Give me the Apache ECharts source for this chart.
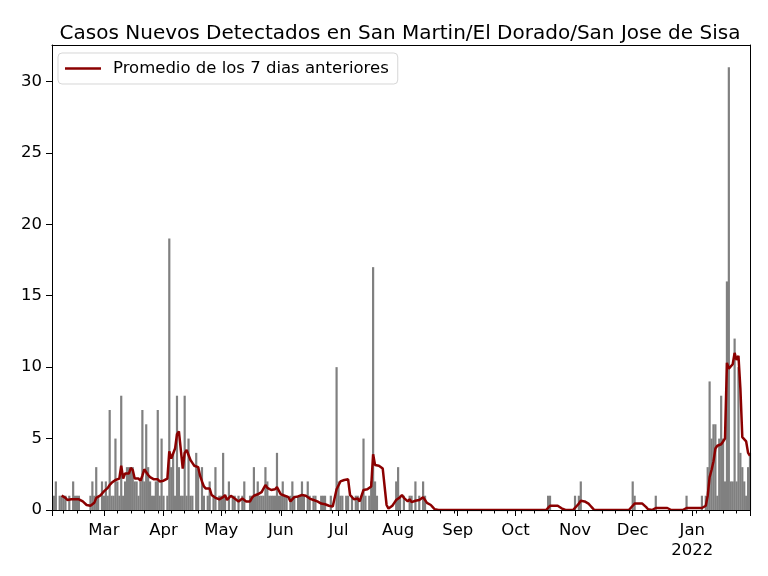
<!DOCTYPE html>
<html>
<head>
<meta charset="utf-8">
<script src="https://cdn.jsdelivr.net/npm/echarts@6/dist/echarts.min.js"></script>
<style>
  html, body { margin: 0; padding: 0; background: #fff; }
  #main { width: 768px; height: 576px; }
</style>
</head>
<body>
<div id="main"></div>
<script>
// casos diarios por mes (Feb 2 2021 - Jan 31 2022)
var febCases = [0,1,2,0,1,1,1,1,0,1,0,2,1,1,1,0,0,0,0,0,1,2,1,3,1,0,2];
var marCases = [1,2,1,7,1,1,5,2,1,8,1,2,3,3,3,3,2,2,1,2,7,2,6,3,2,1,1,2,7,1,5];
var aprCases = [1,0,1,19,3,4,1,8,3,1,1,8,1,5,1,1,0,4,3,0,3,1,0,1,2,0,1,3,0,1];
var mayCases = [1,4,1,0,2,0,1,1,0,1,0,1,2,0,0,1,1,3,1,2,1,1,1,3,2,1,1,1,1,4,1];
var junCases = [1,2,1,1,0,1,2,1,0,1,1,2,1,0,2,1,0,1,1,0,0,1,1,1,0,0,1,0,0,10];
var julCases = [2,1,1,0,1,1,0,1,0,1,1,0,1,5,1,0,1,2,17,2,1,0,0,0,0,0,0,0,0,0,2];
var augCases = [3,1,0,1,0,0,1,1,0,2,0,1,0,2,1,0,0,0,0,0,0,0,0,0,0,0,0,0,0,0,0];
var sepCases = [0,0,0,0,0,0,0,0,0,0,0,0,0,0,0,0,0,0,0,0,0,0,0,0,0,0,0,0,0,0];
var octCases = [0,0,0,0,0,0,0,0,0,0,0,0,0,0,0,0,0,1,1,0,0,0,0,0,0,0,0,0,0,0,0];
var novCases = [1,0,1,2,0,0,0,0,0,0,0,0,0,0,0,0,0,0,0,0,0,0,0,0,0,0,0,0,0,0];
var decCases = [2,1,0,0,0,0,0,0,0,0,0,0,1,0,0,0,0,0,0,0,0,0,0,0,0,0,0,0,1,0,0];
var janCases = [0,0,0,0,0,1,0,1,3,9,5,6,6,1,5,8,5,2,16,31,2,2,12,2,10,4,3,2,1,3,4];

// promedio de los 7 dias anteriores
var febAvg = [null,null,null,null,null,1.0,0.9,0.85,0.7,0.65,0.75,0.8,0.75,0.75,0.75,0.7,0.6,0.5,0.35,0.28,0.3,0.35,0.5,0.85,0.95,1.0,1.15];
var marAvg = [1.3,1.35,1.55,1.75,1.9,2.0,2.1,2.15,2.2,3.1,2.2,2.55,2.6,2.55,2.95,2.8,2.2,2.1,2.2,2.05,2.4,2.85,2.75,2.45,2.3,2.2,2.15,2.1,2.15,2.0,2.0];
var aprAvg = [2.05,2.15,2.2,4.1,3.6,3.5,4.3,5.3,5.5,5.4,2.9,4.0,4.2,4.3,3.5,3.3,3.1,3.0,3.0,2.4,2.0,1.65,1.5,1.6,1.5,1.05,0.95,0.85,0.75,0.75];
var mayAvg = [0.75,0.9,1.05,0.7,0.85,1.0,0.95,0.8,0.8,0.6,0.7,0.8,0.75,0.6,0.6,0.6,0.85,1.0,1.05,1.1,1.15,1.25,1.3,1.75,1.55,1.45,1.4,1.4,1.45,1.6,1.6];
var junAvg = [1.1,1.05,1.0,1.0,0.9,0.6,0.5,0.9,0.95,0.95,0.95,1.05,1.15,1.0,0.95,0.8,0.8,0.7,0.65,0.6,0.5,0.45,0.4,0.4,0.35,0.3,0.3,0.25,0.3,1.45];
var julAvg = [1.5,2.0,2.05,2.1,2.15,2.15,1.05,0.95,0.75,0.75,0.8,0.6,0.65,1.4,1.45,1.45,1.4,1.65,3.9,3.15,3.15,3.1,3.0,2.9,2.85,0.35,0.1,0.15,0.3,0.5,0.7];
var augAvg = [0.8,0.9,1.05,0.85,0.8,0.6,0.75,0.55,0.5,0.65,0.6,0.7,0.75,0.9,0.7,0.5,0.4,0.35,0.2,0.05,0,0,0,0,0,0,0,0,0,0,0];
var sepAvg = [0,0,0,0,0,0,0,0,0,0,0,0,0,0,0,0,0,0,0,0,0,0,0,0,0,0,0,0,0,0];
var octAvg = [0,0,0,0,0,0,0,0,0,0,0,0,0,0,0,0,0,0.15,0.3,0.3,0.3,0.3,0.3,0.3,0.12,0,0,0,0,0,0];
var novAvg = [0.15,0.3,0.45,0.65,0.6,0.6,0.55,0.45,0.3,0.15,0,0,0,0,0,0,0,0,0,0,0,0,0,0,0,0,0,0,0,0];
var decAvg = [0.3,0.45,0.45,0.45,0.45,0.45,0.45,0.2,0.05,0,0,0,0.14,0.14,0.14,0.14,0.14,0.14,0.14,0,0,0,0,0,0,0,0,0,0.14,0.14,0.14];
var janAvg = [0.14,0.14,0.14,0.14,0,0.14,0.14,0.3,1.0,2.3,2.8,3.4,4.3,4.5,4.6,4.6,4.8,5.0,10.3,9.9,10.0,10.2,11.0,10.5,10.8,8.5,5.1,5.0,4.8,4.0,3.8];

var monthLabels = { '03': 'Mar', '04': 'Apr', '05': 'May', '06': 'Jun', '07': 'Jul', '08': 'Aug',
                    '09': 'Sep', '10': 'Oct', '11': 'Nov', '12': 'Dec', '01': 'Jan\n2022' };
var yTicks = [0, 5, 10, 15, 20, 25, 30];

var cases = [].concat(febCases, marCases, aprCases, mayCases, junCases, julCases,
                      augCases, sepCases, octCases, novCases, decCases, janCases);
var avg = [].concat(febAvg, marAvg, aprAvg, mayAvg, junAvg, julAvg,
                    augAvg, sepAvg, octAvg, novAvg, decAvg, janAvg);

// fechas
var dates = [];
var weekday = [];
var start = Date.UTC(2021, 1, 2);
for (var i = 0; i < cases.length; i++) {
    var t = new Date(start + i * 86400000);
    dates.push(t.toISOString().slice(0, 10));
    weekday.push(t.getUTCDay());
}
var last = dates.length - 1;

function isMonthStart(idx, val) {
    return val.slice(8) === '01' || idx === 0 || idx === last;
}
function isLabel(idx, val) {
    return val.slice(8) === '01';
}
function isMonday(idx, val) {
    return weekday[idx] === 1 && val.slice(8) !== '01';
}

var font = 'DejaVu Sans';
var spine = { color: '#000', width: 1 };
var myChart = echarts.init(document.getElementById('main'));
var option = {
    animation: false,
    backgroundColor: '#ffffff',
    title: {
        text: 'Casos Nuevos Detectados en San Martin/El Dorado/San Jose de Sisa',
        left: 395,
        top: 17,
        textAlign: 'center',
        textStyle: { fontFamily: font, fontSize: 20, fontWeight: 'normal', color: '#000', lineHeight: 24 }
    },
    legend: {
        left: 58,
        top: 53,
        padding: [6, 9, 6, 7],
        itemWidth: 36,
        itemHeight: 2.5,
        borderColor: 'rgba(204,204,204,0.8)',
        borderWidth: 1,
        borderRadius: 4,
        backgroundColor: 'rgba(255,255,255,0.8)',
        data: [{ name: 'Promedio de los 7 dias anteriores', icon: 'rect' }],
        textStyle: { fontFamily: font, fontSize: 16.5, color: '#000', lineHeight: 19, padding: [0, 0, 0, 7] }
    },
    grid: {
        left: 52, right: 18, top: 45, bottom: 66
    },
    xAxis: [{
        type: 'category',
        data: dates,
        boundaryGap: false,
        position: 'bottom',
        z: 10,
        axisLine: { lineStyle: spine },
        axisTick: { interval: isMonthStart, length: 6, lineStyle: spine },
        axisLabel: {
            interval: isLabel,
            margin: 11,
            fontFamily: font, fontSize: 16.5, color: '#000', lineHeight: 20,
            formatter: function (val) { return monthLabels[val.slice(5, 7)] || ''; }
        },
        splitLine: { show: false }
    }, {
        // marcas semanales (lunes)
        type: 'category',
        data: dates,
        boundaryGap: false,
        position: 'bottom',
        z: 10,
        axisLine: { show: false },
        axisTick: { interval: isMonday, length: 3.5, lineStyle: spine },
        axisLabel: { show: false },
        splitLine: { show: false }
    }, {
        // borde superior
        type: 'category',
        data: dates,
        boundaryGap: false,
        position: 'top',
        z: 10,
        axisLine: { show: true, lineStyle: spine },
        axisTick: { show: false },
        axisLabel: { show: false },
        splitLine: { show: false }
    }],
    yAxis: [{
        type: 'value',
        min: 0,
        max: 32.55,
        interval: 5,
        position: 'left',
        z: 10,
        axisLine: { show: true, lineStyle: spine },
        axisTick: { show: true, length: 6, customValues: yTicks, lineStyle: spine },
        axisLabel: {
            margin: 10, customValues: yTicks,
            fontFamily: font, fontSize: 16.5, color: '#000'
        },
        splitLine: { show: false }
    }, {
        // borde derecho
        type: 'value',
        min: 0,
        max: 32.55,
        position: 'right',
        z: 10,
        axisLine: { show: true, lineStyle: spine },
        axisTick: { show: false },
        axisLabel: { show: false },
        splitLine: { show: false }
    }],
    series: [{
        name: 'casos',
        type: 'bar',
        data: cases,
        barWidth: 2.2,
        itemStyle: { color: '#808080' },
        z: 2
    }, {
        name: 'Promedio de los 7 dias anteriores',
        type: 'line',
        data: avg,
        showSymbol: false,
        symbol: 'none',
        lineStyle: { color: '#8b0000', width: 2.5 },
        itemStyle: { color: '#8b0000' },
        z: 3
    }]
};
myChart.setOption(option);
</script>
</body>
</html>
